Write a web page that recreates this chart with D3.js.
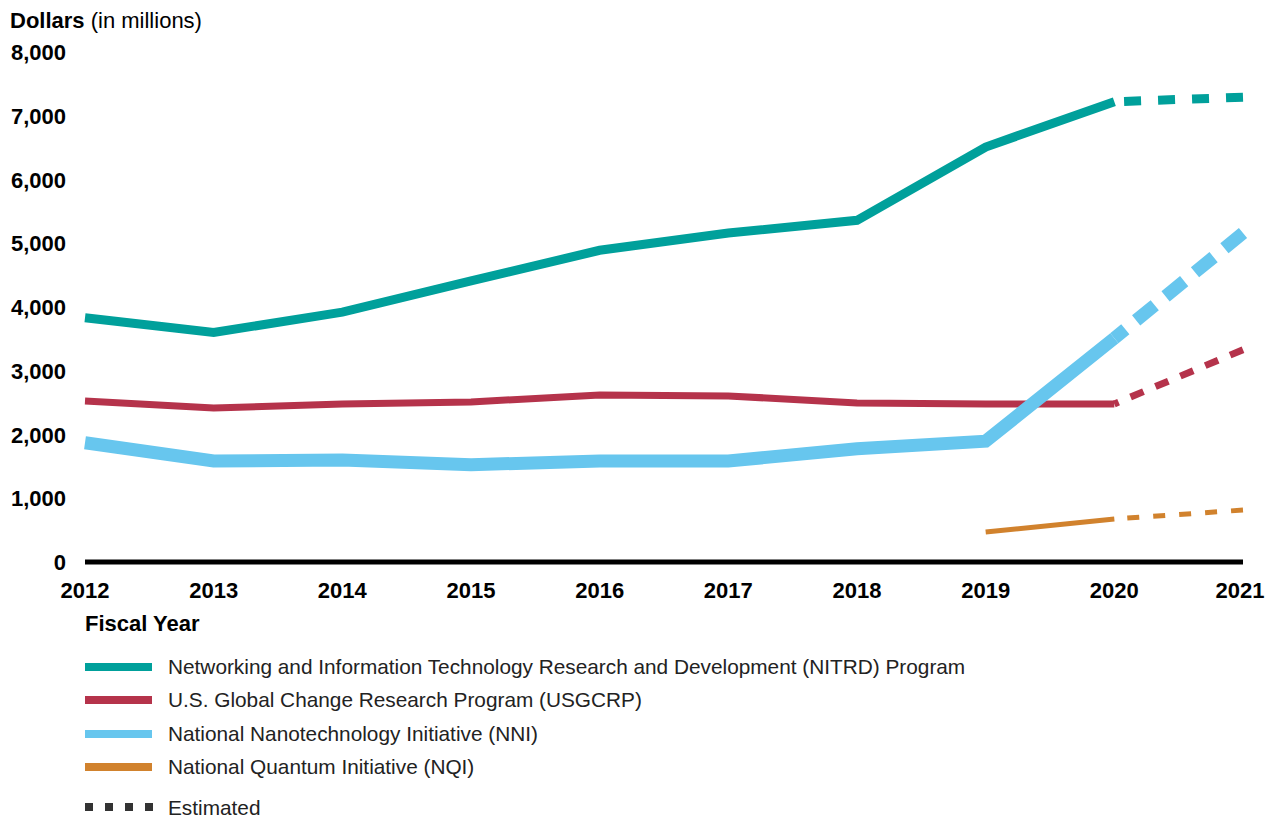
<!DOCTYPE html>
<html>
<head>
<meta charset="utf-8">
<script src="https://cdn.jsdelivr.net/npm/d3@7"></script>
<style>
	body { margin: 0; background: #fff; }
	svg { display: block; font-family: Arial, "Liberation Sans", sans-serif; }
</style>
</head>
<body>
<div id="chart"></div>
<script>

// fiscal years and tick values
var years = [2012, 2013, 2014, 2015, 2016, 2017, 2018, 2019, 2020, 2021];
var yTicks = [0, 1000, 2000, 3000, 4000, 5000, 6000, 7000, 8000];

// series values (millions of dollars), null = no data
var nitrd = [3830, 3600, 3920, 4410, 4890, 5160, 5360, 6510, 7220, 7290];
var usgcrp = [2525, 2415, 2480, 2510, 2620, 2605, 2495, 2480, 2480, 3330];
var nni = [1870, 1585, 1600, 1525, 1585, 1585, 1775, 1895, 3510, 5160];
var nqi = [null, null, null, null, null, null, null, 470, 675, 815];

// first year that is an estimate
var estimatedFrom = 2020;

var seriesNames = [
	"Networking and Information Technology Research and Development (NITRD) Program",
	"U.S. Global Change Research Program (USGCRP)",
	"National Nanotechnology Initiative (NNI)",
	"National Quantum Initiative (NQI)"
];

var series = [
	{ name: seriesNames[0], values: nitrd, color: "#00a09b", width: 9, dash: [17, 17] },
	{ name: seriesNames[1], values: usgcrp, color: "#b5334b", width: 7, dash: [14, 13] },
	{ name: seriesNames[2], values: nni, color: "#67c6ee", width: 13, dash: [24, 14] },
	{ name: seriesNames[3], values: nqi, color: "#d1822d", width: 5, dash: [12, 14] }
];

var W = 1270, H = 818;

var x = d3.scaleLinear().domain([2012, 2021]).range([85, 1243]);
var y = d3.scaleLinear().domain([0, 8000]).range([562, 52]);

var svg = d3.select("#chart").append("svg")
	.attr("width", W)
	.attr("height", H);

// y title
var yTitle = svg.append("text")
	.attr("x", 10)
	.attr("y", 28)
	.attr("font-size", 22);
yTitle.append("tspan").attr("font-weight", "bold").text("Dollars");
yTitle.append("tspan").text(" (in millions)");

// y tick labels
svg.append("g")
	.selectAll("text")
	.data(yTicks)
	.enter()
	.append("text")
	.attr("x", 66)
	.attr("y", function(d) { return y(d) + 8; })
	.attr("text-anchor", "end")
	.attr("font-size", 22)
	.attr("font-weight", "bold")
	.text(function(d) { return d3.format(",")(d); });

// x tick labels
svg.append("g")
	.selectAll("text")
	.data(years)
	.enter()
	.append("text")
	.attr("x", function(d) { return d === 2021 ? x(d) - 3 : x(d); })
	.attr("y", 598)
	.attr("text-anchor", "middle")
	.attr("font-size", 22)
	.attr("font-weight", "bold")
	.text(function(d) { return d; });

svg.append("text")
	.attr("x", 85)
	.attr("y", 631)
	.attr("font-size", 22)
	.attr("font-weight", "bold")
	.text("Fiscal Year");

// lines
var line = d3.line()
	.defined(function(d) { return d.v !== null; })
	.x(function(d) { return x(d.year); })
	.y(function(d) { return y(d.v); });

var lines = svg.append("g");

series.forEach(function(s) {
	var pts = years.map(function(yr, i) { return { year: yr, v: s.values[i] }; });
	var actual = pts.filter(function(d) { return d.year <= estimatedFrom; });
	var est = pts.filter(function(d) { return d.year >= estimatedFrom; });

	lines.append("path")
		.datum(actual)
		.attr("d", line)
		.attr("fill", "none")
		.attr("stroke", s.color)
		.attr("stroke-width", s.width)
		.attr("stroke-linejoin", "miter");

	var estPath = lines.append("path")
		.datum(est)
		.attr("d", line)
		.attr("fill", "none")
		.attr("stroke", s.color)
		.attr("stroke-width", s.width)
		.attr("stroke-dasharray", s.dash.join(","));

	// shift the pattern so a dash finishes right at the 2021 point
	var len = estPath.node().getTotalLength();
	var period = s.dash[0] + s.dash[1];
	var off = ((s.dash[0] - len) % period + period) % period;
	estPath.attr("stroke-dashoffset", off);
});

// zero line
svg.append("line")
	.attr("x1", x(2012))
	.attr("x2", x(2021))
	.attr("y1", y(0))
	.attr("y2", y(0))
	.attr("stroke", "#000")
	.attr("stroke-width", 5);

// legend
var legend = svg.append("g");
var rowY = [667, 700, 734, 767];

series.forEach(function(s, i) {
	legend.append("line")
		.attr("x1", 85)
		.attr("x2", 152)
		.attr("y1", rowY[i])
		.attr("y2", rowY[i])
		.attr("stroke", s.color)
		.attr("stroke-width", 8);
	legend.append("text")
		.attr("x", 168)
		.attr("y", rowY[i] + 7)
		.attr("font-size", 20.8)
		.attr("fill", "#222")
		.text(s.name);
});

legend.append("line")
	.attr("x1", 85)
	.attr("x2", 153)
	.attr("y1", 807)
	.attr("y2", 807)
	.attr("stroke", "#333")
	.attr("stroke-width", 8)
	.attr("stroke-dasharray", "8,12");

legend.append("text")
	.attr("x", 168)
	.attr("y", 815)
	.attr("font-size", 20.8)
	.attr("fill", "#222")
	.text("Estimated");

</script>
</body>
</html>
